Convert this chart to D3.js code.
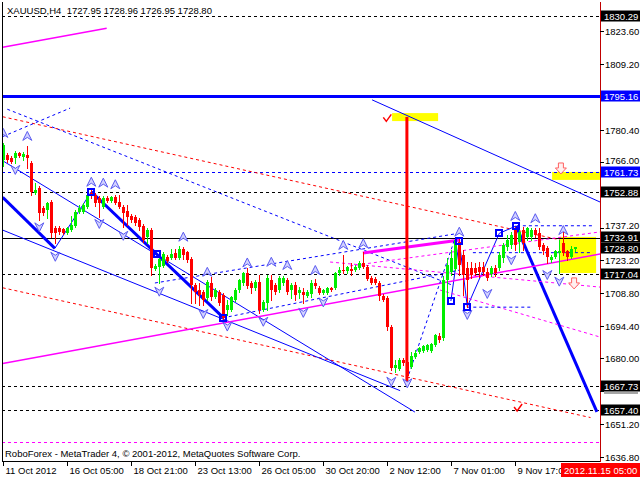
<!DOCTYPE html>
<html><head><meta charset="utf-8">
<script src="https://cdn.jsdelivr.net/npm/d3@7"></script>
<style>body{margin:0;background:#fff;}svg{display:block;}text{font-family:"Liberation Sans",Arial,sans-serif;font-size:9.5px;}</style>
</head><body><svg id="c" width="640" height="480"></svg>
<script>
// ---------- data ----------
const titleText = "XAUUSD,H4  1727.95 1728.96 1726.95 1728.80";
const footerText = "RoboForex - MetaTrader 4, \u00A9 2001-2012, MetaQuotes Software Corp.";
const opens = [1767.0,1769.2,1767.9,1767.9,1770.1,1768.3,1769.2,1765.7,1752.6,1754.8,1746.0,1745.1,1748.6,1737.2,1737.2,1736.7,1735.0,1736.3,1738.1,1744.2,1744.2,1746.4,1752.6,1751.7,1750.4,1746.4,1750.4,1749.1,1750.9,1748.6,1746.4,1744.7,1742.4,1742.0,1740.7,1738.1,1733.3,1736.3,1719.3,1720.2,1720.6,1724.5,1724.0,1726.3,1724.0,1728.0,1726.7,1723.6,1712.2,1710.0,1709.1,1706.5,1713.1,1706.9,1709.1,1707.8,1701.3,1701.3,1705.6,1710.0,1713.1,1717.5,1713.1,1710.9,1713.5,1701.3,1704.3,1714.4,1712.2,1710.0,1713.1,1714.4,1710.0,1712.2,1708.7,1709.1,1707.4,1708.3,1713.1,1710.9,1708.7,1708.7,1710.9,1710.9,1717.5,1718.8,1718.4,1719.3,1718.8,1719.7,1721.9,1720.2,1715.3,1714.8,1713.1,1707.4,1706.5,1693.8,1675.8,1675.4,1679.3,1678.4,1676.2,1680.6,1682.8,1683.3,1683.7,1683.3,1685.9,1689.9,1689.0,1714.4,1717.9,1719.3,1731.1,1725.4,1719.7,1719.7,1719.7,1720.2,1720.2,1718.0,1717.0,1719.7,1719.7,1724.0,1728.9,1729.8,1736.3,1731.1,1736.3,1733.3,1733.3,1736.3,1735.0,1729.8,1728.5,1723.2,1724.5,1726.2,1730.7,1727.1,1724.5,1727.95];
const highs = [1774.5,1770.1,1768.8,1771.0,1770.5,1770.5,1773.2,1766.6,1756.9,1755.6,1746.9,1748.6,1749.5,1738.1,1738.1,1737.2,1737.6,1742.4,1745.1,1747.3,1748.2,1752.6,1753.9,1752.6,1751.3,1751.3,1751.3,1751.3,1751.7,1751.7,1747.3,1747.3,1743.3,1742.9,1741.6,1739.0,1737.2,1737.2,1721.5,1724.9,1726.7,1725.4,1728.0,1728.0,1729.4,1728.9,1727.1,1724.5,1713.1,1713.1,1710.0,1714.4,1715.7,1710.9,1710.0,1708.7,1705.6,1707.4,1710.9,1714.8,1717.9,1719.7,1713.9,1714.4,1716.6,1705.6,1716.6,1716.6,1713.1,1716.1,1716.1,1715.3,1713.1,1713.5,1711.4,1710.9,1710.0,1714.4,1714.8,1711.8,1710.5,1711.4,1711.4,1717.9,1720.2,1725.4,1720.6,1721.9,1721.0,1722.8,1726.7,1721.0,1716.1,1715.7,1714.0,1708.3,1707.4,1694.7,1679.3,1680.2,1680.2,1679.3,1682.8,1683.7,1685.0,1685.9,1686.4,1686.8,1690.7,1691.2,1716.1,1724.0,1727.6,1732.9,1732.9,1727.6,1722.4,1722.4,1721.9,1722.4,1722.4,1719.7,1720.6,1721.0,1726.7,1730.7,1734.1,1735.5,1737.6,1736.8,1737.6,1737.6,1737.2,1737.2,1737.2,1730.7,1729.4,1725.4,1727.6,1732.0,1735.5,1727.6,1729.4,1728.96];
const lows = [1764.4,1766.1,1765.7,1765.7,1768.3,1767.0,1763.5,1751.7,1752.1,1740.7,1742.9,1741.6,1733.3,1730.7,1734.6,1734.6,1734.6,1735.9,1737.6,1743.8,1743.8,1746.0,1750.4,1746.9,1742.0,1746.0,1748.6,1748.6,1747.8,1746.0,1737.6,1738.5,1739.8,1738.5,1736.3,1731.1,1730.7,1716.6,1718.8,1713.1,1720.2,1722.4,1723.6,1723.6,1723.6,1723.6,1722.4,1704.3,1704.3,1703.5,1703.5,1705.6,1705.6,1706.5,1703.5,1696.9,1699.1,1700.9,1705.2,1709.1,1712.2,1710.9,1708.7,1710.0,1699.9,1700.9,1701.3,1705.6,1708.3,1709.1,1712.2,1708.3,1706.5,1705.6,1706.5,1704.3,1707.0,1707.0,1710.9,1708.3,1708.3,1708.3,1709.6,1710.5,1716.6,1717.5,1717.5,1716.6,1718.4,1719.3,1719.7,1714.4,1712.6,1712.6,1705.6,1705.2,1692.5,1675.0,1674.1,1675.0,1677.1,1671.4,1675.8,1680.2,1682.4,1682.8,1683.3,1682.8,1685.5,1687.2,1688.1,1707.4,1716.6,1718.8,1716.6,1707.8,1702.6,1715.3,1716.6,1715.7,1716.6,1714.4,1716.1,1716.1,1718.8,1722.4,1727.6,1728.5,1727.6,1726.7,1727.6,1732.0,1732.0,1733.3,1728.0,1725.8,1721.9,1722.4,1724.0,1717.5,1725.4,1723.2,1724.0,1726.95];
const closes = [1773.6,1767.0,1766.1,1770.1,1768.8,1769.6,1767.9,1753.0,1753.9,1743.8,1743.8,1748.2,1735.0,1735.0,1735.4,1735.0,1737.2,1738.5,1744.2,1746.0,1747.3,1751.7,1751.3,1748.2,1748.2,1750.4,1749.1,1750.9,1748.2,1746.4,1743.8,1742.0,1740.7,1739.4,1737.6,1732.0,1736.3,1719.7,1720.6,1723.6,1725.8,1722.8,1725.8,1724.0,1728.0,1725.4,1723.2,1712.2,1709.1,1707.8,1705.6,1713.5,1706.9,1710.0,1704.3,1697.8,1703.5,1706.9,1710.0,1714.4,1717.5,1711.8,1710.9,1713.5,1701.3,1704.8,1715.3,1710.0,1709.1,1715.3,1715.3,1709.1,1712.2,1707.8,1710.0,1707.8,1709.1,1713.1,1711.8,1708.7,1710.0,1710.9,1710.0,1717.5,1718.8,1718.4,1720.2,1718.4,1720.2,1721.9,1720.2,1714.8,1713.1,1713.1,1707.4,1705.6,1693.8,1675.8,1677.1,1679.3,1678.0,1672.3,1681.1,1682.4,1684.6,1685.5,1685.9,1686.4,1690.3,1688.1,1714.4,1721.0,1724.0,1732.0,1721.0,1716.6,1714.4,1716.6,1717.5,1718.0,1718.0,1715.3,1719.7,1717.5,1725.4,1729.8,1732.0,1734.1,1729.8,1735.5,1730.7,1737.2,1736.3,1734.1,1728.9,1727.1,1724.5,1724.5,1727.1,1727.1,1726.3,1724.5,1728.0,1728.80];

const dateLabels = ["11 Oct 2012","16 Oct 05:00","18 Oct 21:00","23 Oct 13:00","26 Oct 05:00","30 Oct 20:00","2 Nov 12:00","7 Nov 01:00","9 Nov 17:00"];
const dateLabelBars = [0,16,32,48,64,80,96,112,128];
const cursorTimeLabel = "2012.11.15 05:00";
const cursorTimeBar = 139.5;
const priceTicks = [1823.60,1809.20,1780.40,1766.00,1737.20,1723.20,1708.80,1694.40,1680.00,1665.60,1651.20,1636.80];

// horizontal objects
const levelPrices = [1830.29,1795.16,1761.73,1752.88,1732.91,1717.04,1667.73,1657.40,1643.4];
const levelKinds  = ["dashK","thickB","dashB","dashK","solidK","dashK","dashK","dashK","dashM"];
// price boxes on the axis
const boxPrices = [1830.29,1795.16,1761.73,1752.88,1732.91,1728.80,1717.04,1667.73,1657.40];
const boxKinds  = ["k","b","b","k","k","k","k","k","k"];

// trend lines: [bar, price] anchors
const trendA = [[-0.15,1816.5],[-0.15,1786.0],[-0.15,1711.0],[92.2,1793.4],[1.0,1789.3],[-0.15,1777.3],[-0.15,1766.7],[-0.15,1736.3],[-0.15,1750.7],[12.9,1728.3],[22,1753.1],[128.2,1738.1],[111.9,1705.2],[114,1731.5],[116,1702.7],[124,1734.9],[89.9,1726.3],[-0.15,1677.8],[109.2,1710.0],[81.7,1722.3],[86.7,1720.6],[37.9,1713.1],[54.9,1697.8],[100.9,1670.6],[128.4,1738.2],[117.4,1726.4],[116,1702.5],[100.9,1785.9]];
const trendB = [[25.85,1824.8],[139.2,1732.0],[146.8,1654.1],[149.2,1748.6],[112.2,1712.2],[16.7,1789.8],[102.9,1656.5],[99.2,1665.9],[12.9,1728.3],[22,1753.1],[55,1697.9],[148.4,1656.6],[114,1731.5],[116,1702.7],[124,1734.9],[128.2,1738.1],[114.2,1732.0],[149.2,1725.8],[149.2,1689.4],[149.2,1711.3],[149.2,1735.5],[114.2,1735.0],[114.2,1718.8],[112.7,1731.5],[147.4,1738.2],[147.4,1726.4],[132.2,1702.5],[100.9,1668.4]];
const trendKind = ["mag","redDash","redDash","blue","blueDash","blueDash","blue","blue","blueThick","blue","blueThick","blueThick","blue","blue","blue","blue","magThick","mag","magDash","magDash","magDash","blueDash","blueDash","blueDash","blueDash","blueDash","blueDash","redThick"];

// rectangles [bar1, price1, bar2, price2]
const yellowRects = [[97.2,1787.6,108.7,1784.1],[137.2,1761.8,149.2,1758.3],[139.2,1733.3,148.2,1717.5]];
// fractals [bar, price of marker]
const upFractals = [[0,1778.9],[6,1777.6],[22,1757.5],[25,1757.1],[28,1756.4],[45,1733.4],[51,1718.0],[61,1722.1],[67,1722.4],[71,1721.0],[78,1718.8],[85,1729.8],[90,1730.5],[114,1735.6],[128,1742.5],[133,1741.5],[140,1736.3]];
const downFractals = [[3,1762.7],[9,1737.5],[13,1724.6],[24,1739.0],[30,1733.8],[39,1709.3],[50,1699.5],[56,1694.0],[65,1696.1],[75,1700.0],[80,1704.6],[97,1669.8],[101,1669.1],[116,1699.1],[121,1708.3],[127,1723.1],[136,1716.6],[139,1713.7]];
// zigzag vertices
const zigSquares = [[22,1753.1],[38.35,1725.8],[55,1697.9],[111.9,1705.2],[114,1731.5],[116,1702.7],[124,1734.9],[128.2,1738.1]];
const checkMarks = [[96.0,1785.3],[128.7,1658.3]];
const arrowMarks = [[139.4,1763.1],[142.7,1712.7]];

// ---------- drawing ----------
const svg = d3.select("#c");
const PL=2, PR=600, PT=2, PB=461;
const x = d3.scaleLinear().domain([0,150]).range([3.3,603.3]);
const y = d3.scaleLinear().domain([1636.8,1823.6]).range([457,31]);

const defs = svg.append("defs");
defs.append("clipPath").attr("id","clip")
  .append("rect").attr("x",PL).attr("y",PT).attr("width",PR-PL).attr("height",PB-PT);
const plot = svg.append("g").attr("clip-path","url(#clip)");

const styles = {
  mag:{c:"#ff00ff",w:1.5,d:null}, magThick:{c:"#ff00ff",w:3,d:null}, magDash:{c:"#ff00ff",w:1,d:"3,3"},
  redDash:{c:"#ff0000",w:1,d:"3,3"}, redThick:{c:"#ff0000",w:3,d:null},
  blue:{c:"#0000ff",w:1,d:null}, blueThick:{c:"#0000ff",w:3,d:null}, blueDash:{c:"#0000ff",w:1,d:"3,3"},
  dashK:{c:"#000",w:1,d:"3,3"}, solidK:{c:"#000",w:1,d:null}, thickB:{c:"#0000ff",w:3,d:null},
  dashB:{c:"#0000ff",w:1,d:"3,3"}, dashM:{c:"#ff00ff",w:1,d:"3,3"}
};

// yellow rectangles (background)
plot.selectAll("rect.yr").data(yellowRects).enter().append("rect")
  .attr("x",d=>x(d[0])).attr("y",d=>y(d[1]))
  .attr("width",d=>x(d[2])-x(d[0])).attr("height",d=>y(d[3])-y(d[1]))
  .attr("fill","#ffff00");

// horizontal levels
levelPrices.forEach((p,i)=>{
  const s = styles[levelKinds[i]];
  const yy = Math.round(y(p)) + (s.w%2 ? 0.5 : 0);
  plot.append("line").attr("x1",PL).attr("x2",PR).attr("y1",yy).attr("y2",yy)
    .attr("stroke",s.c).attr("stroke-width",s.w).attr("stroke-dasharray",s.d)
    .attr("shape-rendering","crispEdges");
});

// trend lines
trendA.forEach((a,i)=>{
  const b = trendB[i], s = styles[trendKind[i]];
  plot.append("line").attr("x1",x(a[0])).attr("y1",y(a[1])).attr("x2",x(b[0])).attr("y2",y(b[1]))
    .attr("stroke",s.c).attr("stroke-width",s.w).attr("stroke-dasharray",s.d);
});

// candles
const cg = plot.append("g").attr("shape-rendering","crispEdges");
opens.forEach((o,i)=>{
  const c = closes[i], col = c>=o ? "#00ee00" : "#ff0000";
  const cx = Math.round(x(i));
  cg.append("line").attr("x1",cx+0.5).attr("x2",cx+0.5)
    .attr("y1",Math.round(y(highs[i]))).attr("y2",Math.round(y(lows[i]))+1)
    .attr("stroke",col).attr("stroke-width",1);
  const y1 = Math.round(y(Math.max(o,c))), y2 = Math.round(y(Math.min(o,c)));
  cg.append("rect").attr("x",cx-1).attr("y",y1).attr("width",3).attr("height",Math.max(1,y2-y1))
    .attr("fill",col);
});

// fractal arrows
function fractal(g, d, up){
  const cx = x(d[0]), cy = y(d[1]);
  const p = up ? `M${cx},${cy-4.5} L${cx+4.5},${cy+4.5} L${cx},${cy+1.5} L${cx-4.5},${cy+4.5} Z`
               : `M${cx},${cy+4.5} L${cx+4.5},${cy-4.5} L${cx},${cy-1.5} L${cx-4.5},${cy-4.5} Z`;
  g.append("path").attr("d",p).attr("fill","#d2d2ff").attr("stroke","#5a5af0").attr("stroke-width",1);
}
const fg = plot.append("g");
upFractals.forEach(d=>fractal(fg,d,true));
downFractals.forEach(d=>fractal(fg,d,false));

// zigzag squares
plot.selectAll("rect.sq").data(zigSquares).enter().append("rect")
  .attr("x",d=>Math.round(x(d[0]))-3).attr("y",d=>Math.round(y(d[1]))-3)
  .attr("width",6).attr("height",6).attr("fill","none").attr("stroke","#0000ff").attr("stroke-width",2);

// check marks
checkMarks.forEach(d=>{
  const cx=x(d[0]), cy=y(d[1]);
  plot.append("path").attr("d",`M${cx-4},${cy-1} L${cx-1},${cy+3} L${cx+4},${cy-4}`)
    .attr("fill","none").attr("stroke","#ff0000").attr("stroke-width",1.5);
});
// outlined down arrows
arrowMarks.forEach(d=>{
  const cx=x(d[0]), cy=y(d[1]);
  plot.append("path").attr("d",`M${cx-2.5},${cy-6} h5 v5 h3 l-5.5,6 l-5.5,-6 h3 z`)
    .attr("fill","#fff0f0").attr("stroke","#ff6060").attr("stroke-width",1);
});

// frame
svg.append("line").attr("x1",PL+0.5).attr("x2",PL+0.5).attr("y1",PT).attr("y2",PB).attr("stroke","#000");
svg.append("line").attr("x1",PL).attr("x2",PR+1).attr("y1",PB+0.5).attr("y2",PB+0.5).attr("stroke","#000");
svg.append("line").attr("x1",PR+0.5).attr("x2",PR+0.5).attr("y1",PT).attr("y2",PB+1).attr("stroke","#c00000");

// title & footer
svg.append("text").attr("x",7).attr("y",14).attr("fill","#000").attr("xml:space","preserve").style("white-space","pre").text(titleText);
svg.append("text").attr("x",5).attr("y",457).attr("fill","#000").text(footerText);

// price axis
const boxY = boxPrices.map(p=>Math.round(y(p)));
for (let k=1;k<boxY.length;k++){
  const gap = boxY[k]-boxY[k-1];
  if (gap < 11){ const s=(11-gap)/2; boxY[k-1]-=Math.floor(s); boxY[k]+=Math.ceil(s); }
}
priceTicks.forEach(p=>{
  const yy = Math.round(y(p))+0.5;
  svg.append("line").attr("x1",PR).attr("x2",PR+4).attr("y1",yy).attr("y2",yy).attr("stroke","#000");
  const covered = boxY.some(b=>Math.abs(b-yy)<6);
  if (covered) return;
  // nudge a label that would touch a neighbouring box
  let ty = yy;
  boxY.forEach(b=>{ const dd = ty-b; if (Math.abs(dd)<11.5) ty = b + Math.sign(dd)*11.5; });
  svg.append("text").attr("x",605).attr("y",ty+3.5).attr("fill","#000").text(p.toFixed(2));
});
boxPrices.forEach((p,i)=>{
  const yy = boxY[i];
  svg.append("rect").attr("x",601).attr("y",yy-5.5).attr("width",39).attr("height",11)
    .attr("fill",boxKinds[i]==="b"?"#0000ff":"#000");
  svg.append("text").attr("x",604).attr("y",yy+3.5).attr("fill","#fff").attr("font-size","9px").text(p.toFixed(2));
});
// lower edge of the covered 1665.60 label peeking out under the 1667.73 box
svg.append("rect").attr("x",604).attr("y",Math.round(y(1667.73))+6).attr("width",34).attr("height",2).attr("fill","#000").attr("opacity",0.35);

// time axis
dateLabels.forEach((t,i)=>{
  const xx = Math.round(x(dateLabelBars[i]))+0.5;
  svg.append("line").attr("x1",xx).attr("x2",xx).attr("y1",PB).attr("y2",PB+5).attr("stroke","#000");
  svg.append("text").attr("x",xx+2).attr("y",474).attr("fill","#000").text(t);
});
const cbx = Math.round(x(cursorTimeBar));
svg.append("rect").attr("x",cbx).attr("y",463).attr("width",640-cbx).attr("height",14).attr("fill","#ff0000");
svg.append("text").attr("x",cbx+3).attr("y",474).attr("fill","#fff").text(cursorTimeLabel);
</script></body></html>
